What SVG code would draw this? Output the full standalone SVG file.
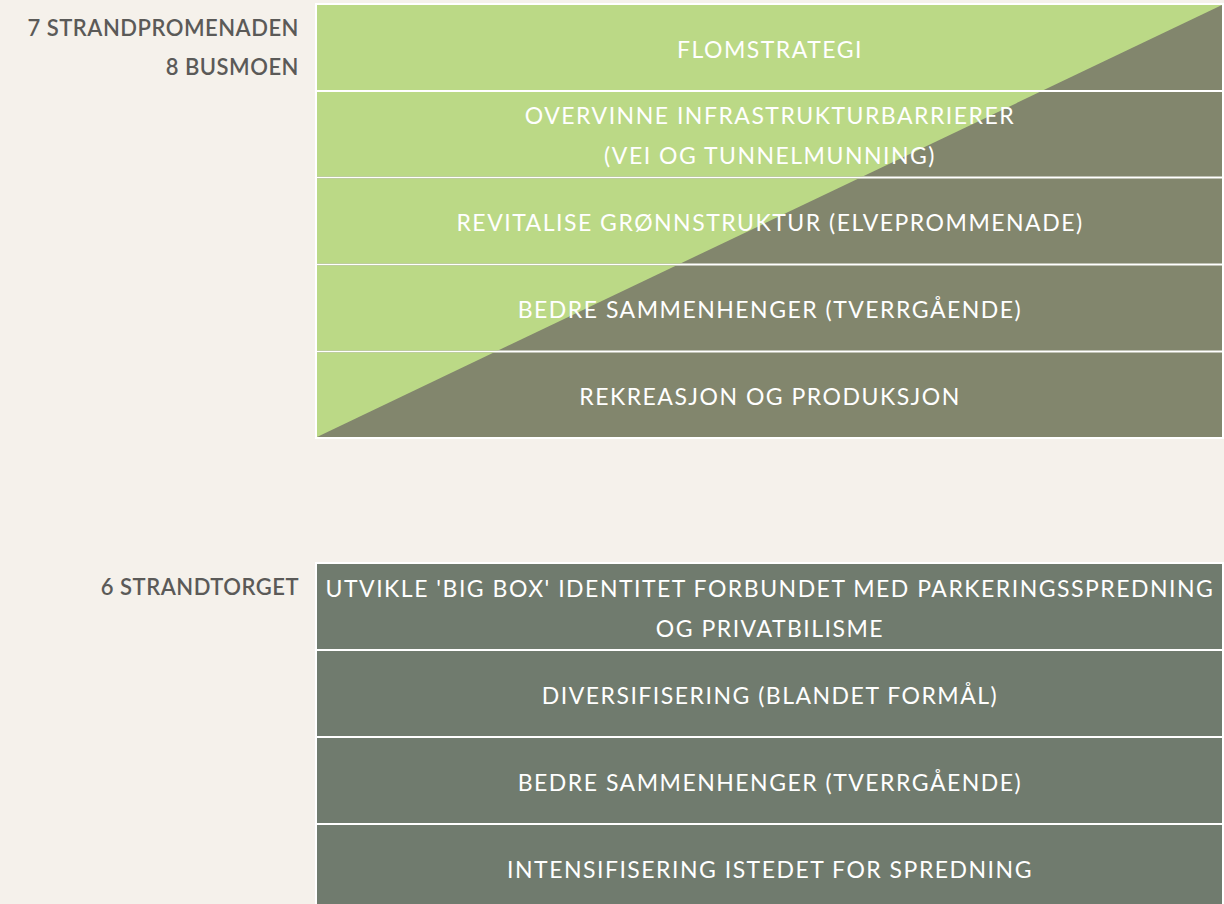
<svg xmlns="http://www.w3.org/2000/svg" width="1224" height="904" viewBox="0 0 1224 904">
<style>
.bg{fill:#f5f1eb}
.frame{fill:#ffffff}
.olive{fill:#82866d}
.green{fill:#bbd986}
.grey{fill:#707b6e}
.t{font-family:Lato,"Liberation Sans",sans-serif;font-size:23px;letter-spacing:1.5px;fill:#ffffff;text-anchor:middle}
.lbl{font-family:Lato,"Liberation Sans",sans-serif;font-size:22px;letter-spacing:0.5px;font-weight:600;fill:#5b5a58;text-anchor:end}
</style>
<defs>
<clipPath id="tri"><polygon points="317,5 1222,5 317,437"/></clipPath>
</defs>
<rect class="bg" x="0" y="0" width="1224" height="904"/>
<g id="labels">
<text class="lbl" x="299" y="36">7 STRANDPROMENADEN</text>
<text class="lbl" x="299" y="75">8 BUSMOEN</text>
<text class="lbl" x="299" y="595">6 STRANDTORGET</text>
</g>
<rect class="frame" x="315" y="3" width="909" height="436"/>
<g id="top1"><rect class="olive" x="317" y="5" width="905" height="85"/><rect class="green" x="317" y="5" width="905" height="85" clip-path="url(#tri)"/><text class="t" x="770" y="58">FLOMSTRATEGI</text></g>
<g id="top2"><rect class="olive" x="317" y="92" width="905" height="84.5"/><rect class="green" x="317" y="92" width="905" height="84.5" clip-path="url(#tri)"/><text class="t" x="770" y="124">OVERVINNE INFRASTRUKTURBARRIERER</text><text class="t" x="770" y="164">(VEI OG TUNNELMUNNING)</text></g>
<g id="top3"><rect class="olive" x="317" y="178.5" width="905" height="85"/><rect class="green" x="317" y="178.5" width="905" height="85" clip-path="url(#tri)"/><text class="t" x="770" y="231">REVITALISE GRØNNSTRUKTUR (ELVEPROMMENADE)</text></g>
<g id="top4"><rect class="olive" x="317" y="265.5" width="905" height="85"/><rect class="green" x="317" y="265.5" width="905" height="85" clip-path="url(#tri)"/><text class="t" x="770" y="318">BEDRE SAMMENHENGER (TVERRGÅENDE)</text></g>
<g id="top5"><rect class="olive" x="317" y="352.5" width="905" height="84.5"/><rect class="green" x="317" y="352.5" width="905" height="84.5" clip-path="url(#tri)"/><text class="t" x="770" y="405">REKREASJON OG PRODUKSJON</text></g>
<rect class="frame" x="315" y="562" width="909" height="342"/>
<g id="bot1"><rect class="grey" x="317" y="564" width="905" height="85"/><text class="t" x="770" y="597">UTVIKLE 'BIG BOX' IDENTITET FORBUNDET MED PARKERINGSSPREDNING</text><text class="t" x="770" y="637">OG PRIVATBILISME</text></g>
<g id="bot2"><rect class="grey" x="317" y="651" width="905" height="85"/><text class="t" x="770" y="704">DIVERSIFISERING (BLANDET FORMÅL)</text></g>
<g id="bot3"><rect class="grey" x="317" y="738" width="905" height="85"/><text class="t" x="770" y="791">BEDRE SAMMENHENGER (TVERRGÅENDE)</text></g>
<g id="bot4"><rect class="grey" x="317" y="825" width="905" height="85"/><text class="t" x="770" y="878">INTENSIFISERING ISTEDET FOR SPREDNING</text></g>
<g id="connectors"></g>
</svg>
